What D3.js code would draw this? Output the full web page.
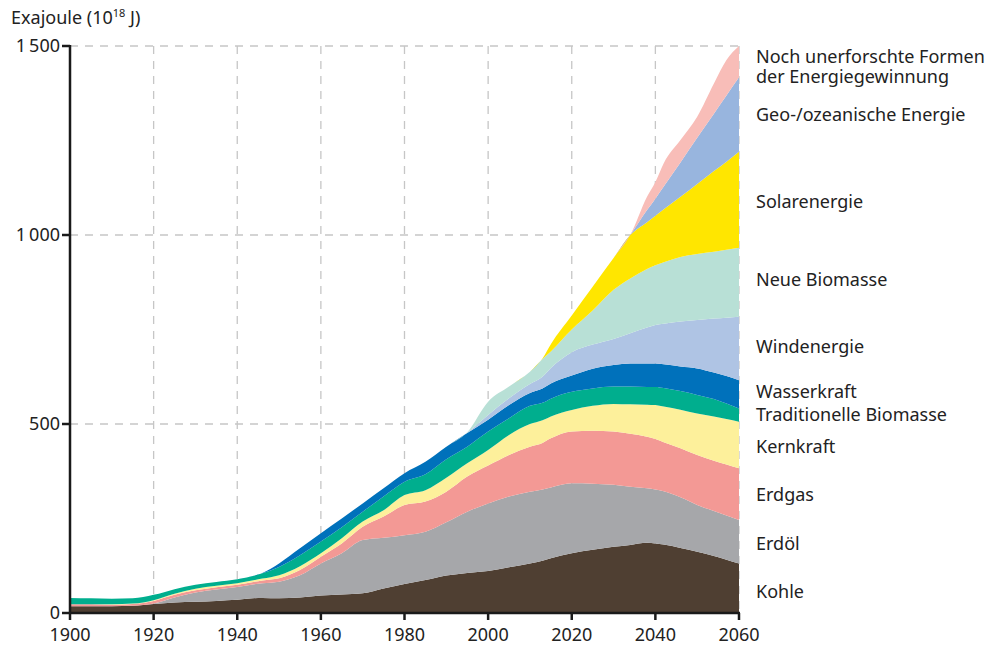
<!DOCTYPE html>
<html>
<head>
<meta charset="utf-8">
<script src="https://cdn.jsdelivr.net/npm/d3@7"></script>
<style>
  body { margin: 0; background: #fff; }
  text { font-family: "Noto Sans", "Open Sans", sans-serif; fill: #222; }
</style>
</head>
<body>
<svg width="1001" height="646"></svg>
<script>
// years
const years = [1900,1905,1910,1915,1920,1925,1930,1935,1940,1946,1950,1955,1960,1965,1970,1975,1980,1985,1990,1995,2000,2005,2010,2013,2015,2020,2025,2030,2034,2038,2040,2042,2046,2050,2054,2057,2060];

// Exajoule per source (not cumulative)
const kohle       = [18,18,18,19,24,28,30,32,35,40,39,41,46,49,52,65,77,87,99,106,111,121,131,138,145,158,167,175,180,186,184,181,172,162,151,141,131];
const erdoel      = [0,0,0,0,1,13,24,30,34,39,44,59,85,109,141,134,129,128,141,162,179,187,190,189,187,185,175,164,154,144,143,141,134,124,119,117,115];
const erdgas      = [5,5,4,5,7,7,6,6,6,7,9,14,18,26,35,56,80,80,81,93,100,110,119,123,130,137,140,141,140,136,133,130,130,132,133,135,137];
const kernkraft   = [0,0,1,1,2,3,4,4,4,5,8,10,9,14,14,17,26,30,37,35,41,53,60,60,58,57,66,73,78,85,90,94,102,110,117,120,123];
const tradBio     = [17,16,15,14,14,12,11,10,10,14,22,29,31,29,26,36,35,42,49,44,49,44,48,46,47,48,46,46,47,47,48,49,49,49,46,41,35];
const wasser      = [0,0,0,0,0,0,0,0,0,1,9,18,22,23,22,22,23,33,33,36,31,35,34,38,40,43,52,57,61,62,62,63,65,70,70,73,75];
const wind        = [0,0,0,0,0,0,0,0,0,0,0,0,0,0,0,0,0,0,0,1,13,18,24,31,41,62,64,69,80,95,102,107,119,128,143,154,168];
const neueBio     = [0,0,0,0,0,0,0,0,0,0,0,0,0,0,0,0,0,0,0,1,35,31,32,47,44,60,90,130,145,155,158,163,171,175,177,180,182];
const solar       = [0,0,0,0,0,0,0,0,0,0,0,0,0,0,0,0,0,0,0,0,0,0,0,1,19,37,63,84,115,124,131,140,159,185,213,233,254];
const geo         = [0,0,0,0,0,0,0,0,0,0,0,0,0,0,0,0,0,0,0,0,0,0,0,0,0,0,0,0,0,32,45,60,91,122,152,175,197];
const unerforscht = [0,0,0,0,0,0,0,0,0,0,0,0,0,0,0,0,0,0,0,0,0,0,0,0,0,0,0,0,0,35,44,62,59,56,80,94,83];

const seriesNames = ['Kohle','Erdöl','Erdgas','Kernkraft','Traditionelle Biomasse','Wasserkraft','Windenergie','Neue Biomasse','Solarenergie','Geo-/ozeanische Energie','Noch unerforschte Formen der Energiegewinnung'];
const seriesValues = [kohle,erdoel,erdgas,kernkraft,tradBio,wasser,wind,neueBio,solar,geo,unerforscht];
const colors = ['#4f3f32','#a6a7aa','#f39995','#fdf09b','#00ae8e','#0071bb','#afc4e4','#b8e0d6','#ffe600','#98b5de','#f8bdb8'];

// label text lines and the value (EJ) where each label sits at the right
const labelLines = [['Kohle'],['Erdöl'],['Erdgas'],['Kernkraft'],['Traditionelle Biomasse'],['Wasserkraft'],['Windenergie'],['Neue Biomasse'],['Solarenergie'],['Geo-/ozeanische Energie'],['Noch unerforschte Formen','der Energiegewinnung']];
const labelAt = [56,183,312,439,524,585,704,881,1087,1317,1473];

const yTicks = [0,500,1000,1500];
const xTicks = [1900,1920,1940,1960,1980,2000,2020,2040,2060];

const svg = d3.select('svg');

const x = d3.scaleLinear().domain([1900,2060]).range([70,739]);
const y = d3.scaleLinear().domain([0,1500]).range([613,46]);

// build rows for the stack
const table = years.map((yr,i) => {
  const row = { year: yr };
  seriesNames.forEach((n,k) => row[n] = seriesValues[k][i]);
  return row;
});
const stacked = d3.stack().keys(seriesNames)(table);

// grid
const grid = svg.append('g')
  .attr('stroke','#c6c6c6').attr('stroke-width',1.3).attr('stroke-dasharray','8,7');
grid.selectAll('line.h').data(yTicks.filter(d => d > 0))
  .enter().append('line')
    .attr('x1', x(1900)).attr('x2', x(2060))
    .attr('y1', d => y(d)).attr('y2', d => y(d));
grid.selectAll('line.v').data(xTicks.filter(d => d > 1900))
  .enter().append('line')
    .attr('x1', d => x(d)).attr('x2', d => x(d))
    .attr('y1', y(1500)).attr('y2', y(0));

// areas
const area = d3.area()
  .x(d => x(d.data.year))
  .y0(d => y(d[0]))
  .y1(d => y(d[1]))
  .curve(d3.curveMonotoneX);

svg.append('g').selectAll('path').data(stacked)
  .enter().append('path')
    .attr('d', area)
    .attr('fill', (d,i) => colors[i]);

// axes
const axisG = svg.append('g').attr('stroke','#1a1a1a').attr('stroke-width',2.5);
axisG.append('line').attr('x1', x(1900)).attr('x2', x(1900)).attr('y1', y(1500)-1).attr('y2', y(0)+1);
axisG.append('line').attr('x1', x(1900)-1).attr('x2', x(2060)+1).attr('y1', y(0)).attr('y2', y(0));
axisG.selectAll('line.yt').data(yTicks).enter().append('line')
  .attr('x1', x(1900)-8).attr('x2', x(1900)).attr('y1', d => y(d)).attr('y2', d => y(d));
axisG.selectAll('line.xt').data(xTicks).enter().append('line')
  .attr('x1', d => x(d)).attr('x2', d => x(d)).attr('y1', y(0)).attr('y2', y(0)+7);

const fmt = d => d >= 1000 ? d3.format(',')(d).replace(',', '\u2009') : String(d);
svg.append('g').selectAll('text').data(yTicks).enter().append('text')
  .attr('x', x(1900)-10).attr('y', d => y(d)).attr('dy','0.33em')
  .attr('text-anchor','end').style('font-size','18px')
  .text(fmt);

svg.append('g').selectAll('text').data(xTicks).enter().append('text')
  .attr('x', d => x(d)).attr('y', 641)
  .attr('text-anchor','middle').style('font-size','18px')
  .text(d => d);

// axis title
const title = svg.append('text').attr('x', 11).attr('y', 24).style('font-size','18px');
title.append('tspan').text('Exajoule (10');
title.append('tspan').attr('dy', -7).style('font-size','11px').text('18');
title.append('tspan').attr('dy', 7).text(' J)');

// labels at the right
const lab = svg.append('g').selectAll('text').data(labelLines).enter().append('text')
  .attr('x', 756).attr('y', (d,i) => y(labelAt[i]))
  .style('font-size','18px');
lab.selectAll('tspan').data(d => d).enter().append('tspan')
  .attr('x', 756).attr('dy', (d,j) => j === 0 ? '0.35em' : '1.12em')
  .text(d => d);
</script>
</body>
</html>
